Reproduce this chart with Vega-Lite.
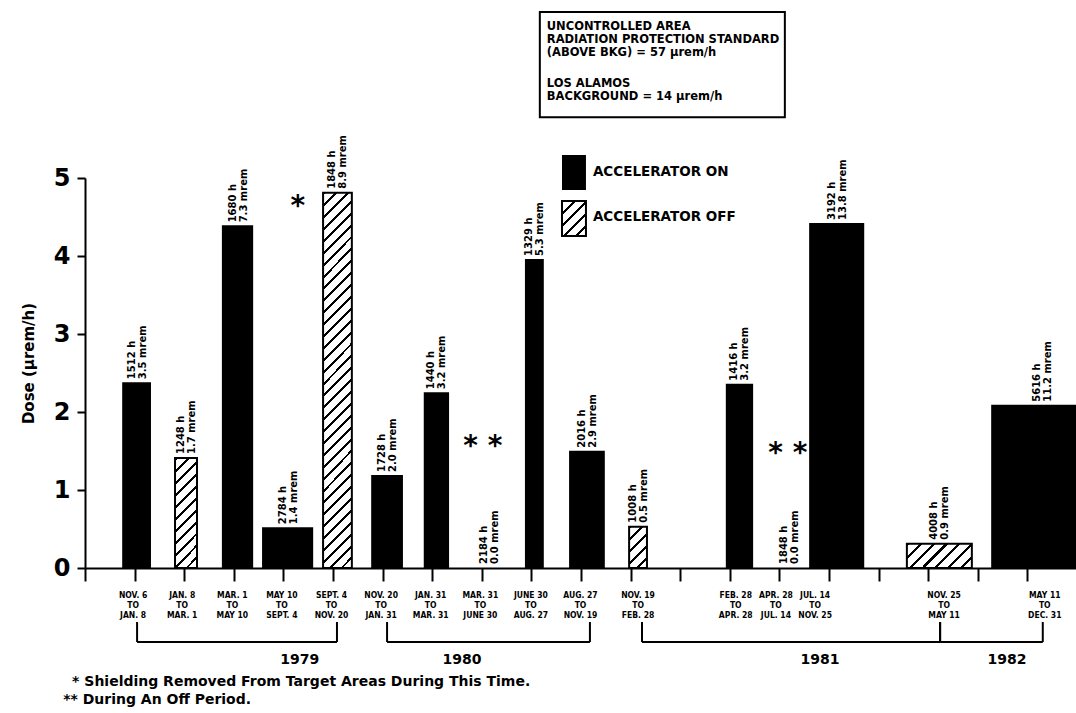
{
  "$schema": "https://vega.github.io/schema/vega-lite/v6.json",
  "width": 992,
  "height": 390,
  "autosize": "none",
  "padding": {"left": 85, "top": 178, "right": 0, "bottom": 145},
  "background": "#ffffff",
  "config": {"view": {"stroke": null}},
  "datasets": {
    "bars": [
      {"id": 1, "period": "NOV. 6|TO|JAN. 8", "slot": 0.97, "start": 0.77, "end": 1.31, "dose": 2.37, "state": "ON", "hours": "1512 h", "mrem": "3.5 mrem"},
      {"id": 2, "period": "JAN. 8|TO|MAR. 1", "slot": 1.96, "start": 1.815, "end": 2.258, "dose": 1.41, "state": "OFF", "hours": "1248 h", "mrem": "1.7 mrem"},
      {"id": 3, "period": "MAR. 1|TO|MAY 10", "slot": 2.97, "start": 2.78, "end": 3.37, "dose": 4.38, "state": "ON", "hours": "1680 h", "mrem": "7.3 mrem"},
      {"id": 4, "period": "MAY 10|TO|SEPT. 4", "slot": 3.97, "start": 3.59, "end": 4.58, "dose": 0.51, "state": "ON", "hours": "2784 h", "mrem": "1.4 mrem"},
      {"id": 5, "period": "SEPT. 4|TO|NOV. 20", "slot": 4.97, "start": 4.8, "end": 5.38, "dose": 4.81, "state": "OFF", "hours": "1848 h", "mrem": "8.9 mrem"},
      {"id": 6, "period": "NOV. 20|TO|JAN. 31", "slot": 5.97, "start": 5.79, "end": 6.39, "dose": 1.18, "state": "ON", "hours": "1728 h", "mrem": "2.0 mrem"},
      {"id": 7, "period": "JAN. 31|TO|MAR. 31", "slot": 6.97, "start": 6.85, "end": 7.32, "dose": 2.24, "state": "ON", "hours": "1440 h", "mrem": "3.2 mrem"},
      {"id": 8, "period": "MAR. 31|TO|JUNE 30", "slot": 7.97, "start": 7.76, "end": 8.54, "dose": 0, "state": "OFF", "hours": "2184 h", "mrem": "0.0 mrem"},
      {"id": 9, "period": "JUNE 30|TO|AUG. 27", "slot": 8.99, "start": 8.89, "end": 9.23, "dose": 3.95, "state": "ON", "hours": "1329 h", "mrem": "5.3 mrem"},
      {"id": 10, "period": "AUG. 27|TO|NOV. 19", "slot": 9.99, "start": 9.78, "end": 10.46, "dose": 1.49, "state": "ON", "hours": "2016 h", "mrem": "2.9 mrem"},
      {"id": 11, "period": "NOV. 19|TO|FEB. 28", "slot": 11.15, "start": 10.97, "end": 11.33, "dose": 0.53, "state": "OFF", "hours": "1008 h", "mrem": "0.5 mrem"},
      {"id": 12, "period": "FEB. 28|TO|APR. 28", "slot": 13.12, "start": 12.94, "end": 13.45, "dose": 2.35, "state": "ON", "hours": "1416 h", "mrem": "3.2 mrem"},
      {"id": 13, "period": "APR. 28|TO|JUL. 14", "slot": 13.93, "start": 13.86, "end": 14.52, "dose": 0, "state": "OFF", "hours": "1848 h", "mrem": "0.0 mrem"},
      {"id": 14, "period": "JUL. 14|TO|NOV. 25", "slot": 14.72, "start": 14.62, "end": 15.69, "dose": 4.41, "state": "ON", "hours": "3192 h", "mrem": "13.8 mrem"},
      {"id": 15, "period": "NOV. 25|TO|MAY 11", "slot": 17.32, "start": 16.57, "end": 17.88, "dose": 0.31, "state": "OFF", "hours": "4008 h", "mrem": "0.9 mrem"},
      {"id": 16, "period": "MAY 11|TO|DEC. 31", "slot": 19.35, "start": 18.29, "end": 20.3, "dose": 2.08, "state": "ON", "hours": "5616 h", "mrem": "11.2 mrem"}
    ],
    "years": [
      {"year": "1979", "from": 1.05, "to": 5.08, "labelAt": 4.33},
      {"year": "1980", "from": 6.09, "to": 10.18, "labelAt": 7.6},
      {"year": "1981", "from": 11.23, "to": 17.24, "labelAt": 14.82},
      {"year": "1982", "from": 17.24, "to": 19.31, "labelAt": 18.59}
    ]
  },
  "layer": [
    {
      "data": {"name": "bars"},
      "transform": [{"filter": "datum.dose > 0"}],
      "mark": {"type": "rect", "stroke": "#000", "strokeWidth": 2},
      "encoding": {
        "x": {"field": "start", "type": "quantitative", "scale": {"domain": [0, 20], "nice": false, "zero": false},
          "axis": {"values": [0,1,2,3,4,5,6,7,8,9,10,11,12,13,14,15,16,17,18,19], "labels": false, "title": null, "grid": false, "tickSize": 13, "tickWidth": 2, "tickColor": "#000", "domainColor": "#000", "domainWidth": 2}},
        "x2": {"field": "end"},
        "y": {"field": "dose", "type": "quantitative", "scale": {"domain": [0, 5], "nice": false},
          "axis": {"values": [0,1,2,3,4,5], "format": "d", "title": "Dose (µrem/h)", "grid": false, "tickSize": 8, "tickWidth": 2, "tickColor": "#000", "domainColor": "#000", "domainWidth": 2,
            "labelFont": "DejaVu Sans", "labelFontWeight": "bold", "labelFontSize": 24, "labelColor": "#000", "labelPadding": 7,
            "titleFont": "DejaVu Sans", "titleFontWeight": "bold", "titleFontSize": 15, "titleColor": "#000", "titleX": -57, "titleY": 185, "titleAngle": 270, "titleAlign": "center", "titleBaseline": "middle"}},
        "y2": {"datum": 0},
        "fill": {
          "condition": [
            {"test": "datum.id == 2", "value": {"gradient": "linear", "x1": 0, "y1": 0, "x2": 0.2308, "y2": 1.1538, "stops": [
              {"offset": 0, "color": "#000"}, {"offset": 0.0227, "color": "#000"}, {"offset": 0.0227, "color": "#fff"}, {"offset": 0.0909, "color": "#fff"},
              {"offset": 0.0909, "color": "#000"}, {"offset": 0.1136, "color": "#000"}, {"offset": 0.1136, "color": "#fff"}, {"offset": 0.1818, "color": "#fff"},
              {"offset": 0.1818, "color": "#000"}, {"offset": 0.2045, "color": "#000"}, {"offset": 0.2045, "color": "#fff"}, {"offset": 0.2727, "color": "#fff"},
              {"offset": 0.2727, "color": "#000"}, {"offset": 0.2955, "color": "#000"}, {"offset": 0.2955, "color": "#fff"}, {"offset": 0.3636, "color": "#fff"},
              {"offset": 0.3636, "color": "#000"}, {"offset": 0.3864, "color": "#000"}, {"offset": 0.3864, "color": "#fff"}, {"offset": 0.4545, "color": "#fff"},
              {"offset": 0.4545, "color": "#000"}, {"offset": 0.4773, "color": "#000"}, {"offset": 0.4773, "color": "#fff"}, {"offset": 0.5455, "color": "#fff"},
              {"offset": 0.5455, "color": "#000"}, {"offset": 0.5682, "color": "#000"}, {"offset": 0.5682, "color": "#fff"}, {"offset": 0.6364, "color": "#fff"},
              {"offset": 0.6364, "color": "#000"}, {"offset": 0.6591, "color": "#000"}, {"offset": 0.6591, "color": "#fff"}, {"offset": 0.7273, "color": "#fff"},
              {"offset": 0.7273, "color": "#000"}, {"offset": 0.75, "color": "#000"}, {"offset": 0.75, "color": "#fff"}, {"offset": 0.8182, "color": "#fff"},
              {"offset": 0.8182, "color": "#000"}, {"offset": 0.8409, "color": "#000"}, {"offset": 0.8409, "color": "#fff"}, {"offset": 0.9091, "color": "#fff"},
              {"offset": 0.9091, "color": "#000"}, {"offset": 0.9318, "color": "#000"}, {"offset": 0.9318, "color": "#fff"}, {"offset": 1, "color": "#fff"}]}},
            {"test": "datum.id == 5", "value": {"gradient": "linear", "x1": 0, "y1": 0, "x2": 0.0828, "y2": 1.0709, "stops": [
              {"offset": 0, "color": "#000"}, {"offset": 0.0074, "color": "#000"}, {"offset": 0.0074, "color": "#fff"}, {"offset": 0.0294, "color": "#fff"},
              {"offset": 0.0294, "color": "#000"}, {"offset": 0.0368, "color": "#000"}, {"offset": 0.0368, "color": "#fff"}, {"offset": 0.0588, "color": "#fff"},
              {"offset": 0.0588, "color": "#000"}, {"offset": 0.0662, "color": "#000"}, {"offset": 0.0662, "color": "#fff"}, {"offset": 0.0882, "color": "#fff"},
              {"offset": 0.0882, "color": "#000"}, {"offset": 0.0956, "color": "#000"}, {"offset": 0.0956, "color": "#fff"}, {"offset": 0.1176, "color": "#fff"},
              {"offset": 0.1176, "color": "#000"}, {"offset": 0.125, "color": "#000"}, {"offset": 0.125, "color": "#fff"}, {"offset": 0.1471, "color": "#fff"},
              {"offset": 0.1471, "color": "#000"}, {"offset": 0.1544, "color": "#000"}, {"offset": 0.1544, "color": "#fff"}, {"offset": 0.1765, "color": "#fff"},
              {"offset": 0.1765, "color": "#000"}, {"offset": 0.1838, "color": "#000"}, {"offset": 0.1838, "color": "#fff"}, {"offset": 0.2059, "color": "#fff"},
              {"offset": 0.2059, "color": "#000"}, {"offset": 0.2132, "color": "#000"}, {"offset": 0.2132, "color": "#fff"}, {"offset": 0.2353, "color": "#fff"},
              {"offset": 0.2353, "color": "#000"}, {"offset": 0.2426, "color": "#000"}, {"offset": 0.2426, "color": "#fff"}, {"offset": 0.2647, "color": "#fff"},
              {"offset": 0.2647, "color": "#000"}, {"offset": 0.2721, "color": "#000"}, {"offset": 0.2721, "color": "#fff"}, {"offset": 0.2941, "color": "#fff"},
              {"offset": 0.2941, "color": "#000"}, {"offset": 0.3015, "color": "#000"}, {"offset": 0.3015, "color": "#fff"}, {"offset": 0.3235, "color": "#fff"},
              {"offset": 0.3235, "color": "#000"}, {"offset": 0.3309, "color": "#000"}, {"offset": 0.3309, "color": "#fff"}, {"offset": 0.3529, "color": "#fff"},
              {"offset": 0.3529, "color": "#000"}, {"offset": 0.3603, "color": "#000"}, {"offset": 0.3603, "color": "#fff"}, {"offset": 0.3824, "color": "#fff"},
              {"offset": 0.3824, "color": "#000"}, {"offset": 0.3897, "color": "#000"}, {"offset": 0.3897, "color": "#fff"}, {"offset": 0.4118, "color": "#fff"},
              {"offset": 0.4118, "color": "#000"}, {"offset": 0.4191, "color": "#000"}, {"offset": 0.4191, "color": "#fff"}, {"offset": 0.4412, "color": "#fff"},
              {"offset": 0.4412, "color": "#000"}, {"offset": 0.4485, "color": "#000"}, {"offset": 0.4485, "color": "#fff"}, {"offset": 0.4706, "color": "#fff"},
              {"offset": 0.4706, "color": "#000"}, {"offset": 0.4779, "color": "#000"}, {"offset": 0.4779, "color": "#fff"}, {"offset": 0.5, "color": "#fff"},
              {"offset": 0.5, "color": "#000"}, {"offset": 0.5074, "color": "#000"}, {"offset": 0.5074, "color": "#fff"}, {"offset": 0.5294, "color": "#fff"},
              {"offset": 0.5294, "color": "#000"}, {"offset": 0.5368, "color": "#000"}, {"offset": 0.5368, "color": "#fff"}, {"offset": 0.5588, "color": "#fff"},
              {"offset": 0.5588, "color": "#000"}, {"offset": 0.5662, "color": "#000"}, {"offset": 0.5662, "color": "#fff"}, {"offset": 0.5882, "color": "#fff"},
              {"offset": 0.5882, "color": "#000"}, {"offset": 0.5956, "color": "#000"}, {"offset": 0.5956, "color": "#fff"}, {"offset": 0.6176, "color": "#fff"},
              {"offset": 0.6176, "color": "#000"}, {"offset": 0.625, "color": "#000"}, {"offset": 0.625, "color": "#fff"}, {"offset": 0.6471, "color": "#fff"},
              {"offset": 0.6471, "color": "#000"}, {"offset": 0.6544, "color": "#000"}, {"offset": 0.6544, "color": "#fff"}, {"offset": 0.6765, "color": "#fff"},
              {"offset": 0.6765, "color": "#000"}, {"offset": 0.6838, "color": "#000"}, {"offset": 0.6838, "color": "#fff"}, {"offset": 0.7059, "color": "#fff"},
              {"offset": 0.7059, "color": "#000"}, {"offset": 0.7132, "color": "#000"}, {"offset": 0.7132, "color": "#fff"}, {"offset": 0.7353, "color": "#fff"},
              {"offset": 0.7353, "color": "#000"}, {"offset": 0.7426, "color": "#000"}, {"offset": 0.7426, "color": "#fff"}, {"offset": 0.7647, "color": "#fff"},
              {"offset": 0.7647, "color": "#000"}, {"offset": 0.7721, "color": "#000"}, {"offset": 0.7721, "color": "#fff"}, {"offset": 0.7941, "color": "#fff"},
              {"offset": 0.7941, "color": "#000"}, {"offset": 0.8015, "color": "#000"}, {"offset": 0.8015, "color": "#fff"}, {"offset": 0.8235, "color": "#fff"},
              {"offset": 0.8235, "color": "#000"}, {"offset": 0.8309, "color": "#000"}, {"offset": 0.8309, "color": "#fff"}, {"offset": 0.8529, "color": "#fff"},
              {"offset": 0.8529, "color": "#000"}, {"offset": 0.8603, "color": "#000"}, {"offset": 0.8603, "color": "#fff"}, {"offset": 0.8824, "color": "#fff"},
              {"offset": 0.8824, "color": "#000"}, {"offset": 0.8897, "color": "#000"}, {"offset": 0.8897, "color": "#fff"}, {"offset": 0.9118, "color": "#fff"},
              {"offset": 0.9118, "color": "#000"}, {"offset": 0.9191, "color": "#000"}, {"offset": 0.9191, "color": "#fff"}, {"offset": 0.9412, "color": "#fff"},
              {"offset": 0.9412, "color": "#000"}, {"offset": 0.9485, "color": "#000"}, {"offset": 0.9485, "color": "#fff"}, {"offset": 0.9706, "color": "#fff"},
              {"offset": 0.9706, "color": "#000"}, {"offset": 0.9779, "color": "#000"}, {"offset": 0.9779, "color": "#fff"}, {"offset": 1, "color": "#fff"}]}},
            {"test": "datum.id == 11", "value": {"gradient": "linear", "x1": 0, "y1": 0, "x2": 0.5297, "y2": 1.2065, "stops": [
              {"offset": 0, "color": "#000"}, {"offset": 0.05, "color": "#000"}, {"offset": 0.05, "color": "#fff"}, {"offset": 0.2, "color": "#fff"},
              {"offset": 0.2, "color": "#000"}, {"offset": 0.25, "color": "#000"}, {"offset": 0.25, "color": "#fff"}, {"offset": 0.4, "color": "#fff"},
              {"offset": 0.4, "color": "#000"}, {"offset": 0.45, "color": "#000"}, {"offset": 0.45, "color": "#fff"}, {"offset": 0.6, "color": "#fff"},
              {"offset": 0.6, "color": "#000"}, {"offset": 0.65, "color": "#000"}, {"offset": 0.65, "color": "#fff"}, {"offset": 0.8, "color": "#fff"},
              {"offset": 0.8, "color": "#000"}, {"offset": 0.85, "color": "#000"}, {"offset": 0.85, "color": "#fff"}, {"offset": 1, "color": "#fff"}]}},
            {"test": "datum.id == 15", "value": {"gradient": "linear", "x1": 0, "y1": 0, "x2": 1.205, "y2": 0.4449, "stops": [
              {"offset": 0, "color": "#000"}, {"offset": 0.0357, "color": "#000"}, {"offset": 0.0357, "color": "#fff"}, {"offset": 0.1429, "color": "#fff"},
              {"offset": 0.1429, "color": "#000"}, {"offset": 0.1786, "color": "#000"}, {"offset": 0.1786, "color": "#fff"}, {"offset": 0.2857, "color": "#fff"},
              {"offset": 0.2857, "color": "#000"}, {"offset": 0.3214, "color": "#000"}, {"offset": 0.3214, "color": "#fff"}, {"offset": 0.4286, "color": "#fff"},
              {"offset": 0.4286, "color": "#000"}, {"offset": 0.4643, "color": "#000"}, {"offset": 0.4643, "color": "#fff"}, {"offset": 0.5714, "color": "#fff"},
              {"offset": 0.5714, "color": "#000"}, {"offset": 0.6071, "color": "#000"}, {"offset": 0.6071, "color": "#fff"}, {"offset": 0.7143, "color": "#fff"},
              {"offset": 0.7143, "color": "#000"}, {"offset": 0.75, "color": "#000"}, {"offset": 0.75, "color": "#fff"}, {"offset": 0.8571, "color": "#fff"},
              {"offset": 0.8571, "color": "#000"}, {"offset": 0.8929, "color": "#000"}, {"offset": 0.8929, "color": "#fff"}, {"offset": 1, "color": "#fff"}]}}
          ],
          "value": "#000"
        }
      }
    },
    {
      "data": {"name": "bars"},
      "transform": [
        {"calculate": "(datum.start + datum.end) / 2", "as": "mid"},
        {"calculate": "datum.hours + '|' + datum.mrem", "as": "label"}
      ],
      "mark": {"type": "text", "angle": 270, "align": "left", "baseline": "middle", "dx": 4, "dy": -5, "lineBreak": "|", "lineHeight": 11, "fontSize": 10, "font": "DejaVu Sans", "fontWeight": "bold", "color": "#000"},
      "encoding": {
        "x": {"field": "mid", "type": "quantitative", "title": null},
        "y": {"field": "dose", "type": "quantitative"},
        "text": {"field": "label"}
      }
    },
    {
      "data": {"name": "bars"},
      "mark": {"type": "text", "align": "center", "baseline": "middle", "lineBreak": "|", "lineHeight": 10, "fontSize": 8.5, "font": "DejaVu Sans Condensed, Liberation Sans Narrow, DejaVu Sans", "fontWeight": "bold", "color": "#000"},
      "encoding": {
        "x": {"field": "slot", "type": "quantitative", "title": null},
        "y": {"datum": -0.346, "type": "quantitative"},
        "text": {"field": "period"}
      }
    },
    {
      "data": {"name": "years"},
      "mark": {"type": "rule", "color": "#000", "strokeWidth": 2},
      "encoding": {
        "x": {"field": "from", "type": "quantitative", "title": null},
        "x2": {"field": "to"},
        "y": {"datum": -0.949, "type": "quantitative"}
      }
    },
    {
      "data": {"name": "years"},
      "mark": {"type": "rule", "color": "#000", "strokeWidth": 2},
      "encoding": {
        "x": {"field": "from", "type": "quantitative", "title": null},
        "y": {"datum": -0.692, "type": "quantitative"},
        "y2": {"datum": -0.949}
      }
    },
    {
      "data": {"name": "years"},
      "mark": {"type": "rule", "color": "#000", "strokeWidth": 2},
      "encoding": {
        "x": {"field": "to", "type": "quantitative", "title": null},
        "y": {"datum": -0.692, "type": "quantitative"},
        "y2": {"datum": -0.949}
      }
    },
    {
      "data": {"name": "years"},
      "mark": {"type": "text", "align": "center", "baseline": "middle", "fontSize": 14, "font": "DejaVu Sans", "fontWeight": "bold", "color": "#000"},
      "encoding": {
        "x": {"field": "labelAt", "type": "quantitative", "title": null},
        "y": {"datum": -1.18, "type": "quantitative"},
        "text": {"field": "year"}
      }
    },
    {
      "data": {"values": [{}]},
      "mark": {"type": "rect", "fill": "#000"},
      "encoding": {
        "x": {"datum": 9.617, "type": "quantitative"},
        "x2": {"datum": 10.1},
        "y": {"datum": 5.295, "type": "quantitative"},
        "y2": {"datum": 4.846}
      }
    },
    {
      "data": {"values": [{}]},
      "mark": {"type": "rect", "stroke": "#000", "strokeWidth": 2, "fill": {"gradient": "linear", "x1": 0, "y1": 0, "x2": 0.786, "y2": 1.147, "stops": [
        {"offset": 0, "color": "#000"}, {"offset": 0.05, "color": "#000"}, {"offset": 0.05, "color": "#fff"}, {"offset": 0.2, "color": "#fff"},
        {"offset": 0.2, "color": "#000"}, {"offset": 0.25, "color": "#000"}, {"offset": 0.25, "color": "#fff"}, {"offset": 0.4, "color": "#fff"},
        {"offset": 0.4, "color": "#000"}, {"offset": 0.45, "color": "#000"}, {"offset": 0.45, "color": "#fff"}, {"offset": 0.6, "color": "#fff"},
        {"offset": 0.6, "color": "#000"}, {"offset": 0.65, "color": "#000"}, {"offset": 0.65, "color": "#fff"}, {"offset": 0.8, "color": "#fff"},
        {"offset": 0.8, "color": "#000"}, {"offset": 0.85, "color": "#000"}, {"offset": 0.85, "color": "#fff"}, {"offset": 1, "color": "#fff"}]}},
      "encoding": {
        "x": {"datum": 9.617, "type": "quantitative"},
        "x2": {"datum": 10.1},
        "y": {"datum": 4.705, "type": "quantitative"},
        "y2": {"datum": 4.256}
      }
    },
    {
      "data": {"values": [{}]},
      "mark": {"type": "text", "align": "left", "baseline": "middle", "fontSize": 13.5, "font": "DejaVu Sans", "fontWeight": "bold", "color": "#000", "text": "ACCELERATOR ON"},
      "encoding": {
        "x": {"datum": 10.24, "type": "quantitative"},
        "y": {"datum": 5.077, "type": "quantitative"}
      }
    },
    {
      "data": {"values": [{}]},
      "mark": {"type": "text", "align": "left", "baseline": "middle", "fontSize": 13.5, "font": "DejaVu Sans", "fontWeight": "bold", "color": "#000", "text": "ACCELERATOR OFF"},
      "encoding": {
        "x": {"datum": 10.24, "type": "quantitative"},
        "y": {"datum": 4.5, "type": "quantitative"}
      }
    },
    {
      "data": {"values": [{}]},
      "mark": {"type": "rect", "fill": "#fff", "stroke": "#000", "strokeWidth": 2},
      "encoding": {
        "x": {"datum": 9.17, "type": "quantitative"},
        "x2": {"datum": 14.11},
        "y": {"datum": 7.128, "type": "quantitative"},
        "y2": {"datum": 5.78}
      }
    },
    {
      "data": {"values": [{}]},
      "mark": {"type": "text", "align": "left", "baseline": "middle", "lineBreak": "|", "lineHeight": 13, "fontSize": 11.5, "font": "DejaVu Sans", "fontWeight": "bold", "color": "#000",
        "text": "UNCONTROLLED AREA|RADIATION PROTECTION STANDARD|(ABOVE BKG) = 57 µrem/h"},
      "encoding": {
        "x": {"datum": 9.31, "type": "quantitative"},
        "y": {"datum": 6.94, "type": "quantitative"}
      }
    },
    {
      "data": {"values": [{}]},
      "mark": {"type": "text", "align": "left", "baseline": "middle", "lineBreak": "|", "lineHeight": 13, "fontSize": 11.5, "font": "DejaVu Sans", "fontWeight": "bold", "color": "#000",
        "text": "LOS ALAMOS|BACKGROUND = 14 µrem/h"},
      "encoding": {
        "x": {"datum": 9.31, "type": "quantitative"},
        "y": {"datum": 6.2, "type": "quantitative"}
      }
    },
    {
      "data": {"values": [{}]},
      "mark": {"type": "text", "align": "center", "baseline": "middle", "dy": 7, "fontSize": 28, "font": "DejaVu Sans", "fontWeight": "bold", "color": "#000", "text": "*"},
      "encoding": {
        "x": {"datum": 4.29, "type": "quantitative"},
        "y": {"datum": 4.72, "type": "quantitative"}
      }
    },
    {
      "data": {"values": [{}]},
      "mark": {"type": "text", "align": "center", "baseline": "middle", "dy": 7, "fontSize": 28, "font": "DejaVu Sans", "fontWeight": "bold", "color": "#000", "text": "* *"},
      "encoding": {
        "x": {"datum": 8.02, "type": "quantitative"},
        "y": {"datum": 1.64, "type": "quantitative"}
      }
    },
    {
      "data": {"values": [{}]},
      "mark": {"type": "text", "align": "center", "baseline": "middle", "dy": 7, "fontSize": 28, "font": "DejaVu Sans", "fontWeight": "bold", "color": "#000", "text": "* *"},
      "encoding": {
        "x": {"datum": 14.17, "type": "quantitative"},
        "y": {"datum": 1.55, "type": "quantitative"}
      }
    },
    {
      "data": {"values": [{}]},
      "mark": {"type": "text", "align": "left", "baseline": "middle", "fontSize": 14, "font": "DejaVu Sans", "fontWeight": "bold", "color": "#000", "text": "*  Shielding Removed From Target Areas During This Time."},
      "encoding": {
        "x": {"datum": -0.26, "type": "quantitative"},
        "y": {"datum": -1.46, "type": "quantitative"}
      }
    },
    {
      "data": {"values": [{}]},
      "mark": {"type": "text", "align": "left", "baseline": "middle", "fontSize": 14, "font": "DejaVu Sans", "fontWeight": "bold", "color": "#000", "text": "** During An Off Period."},
      "encoding": {
        "x": {"datum": -0.44, "type": "quantitative"},
        "y": {"datum": -1.69, "type": "quantitative"}
      }
    }
  ]
}
